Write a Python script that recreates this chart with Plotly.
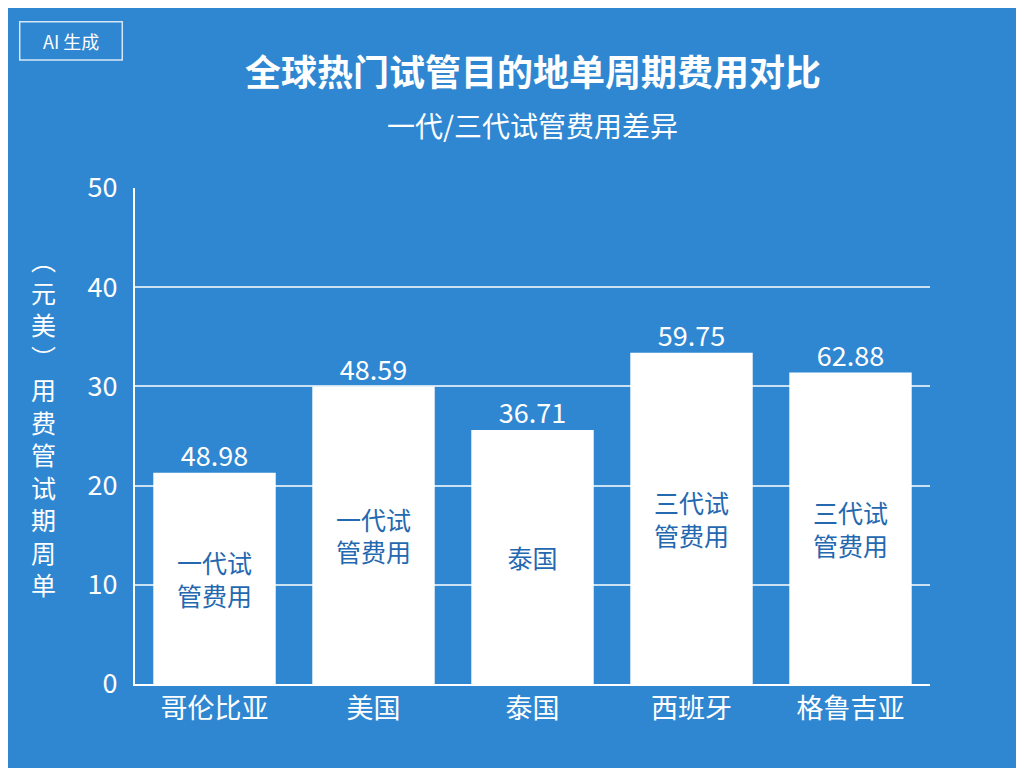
import plotly.graph_objects as go

# 数据
countries = ['哥伦比亚', '美国', '泰国', '西班牙', '格鲁吉亚']
heights = [21.3, 30.0, 25.6, 33.4, 31.4]
top_labels = ['48.98', '48.59', '36.71', '59.75', '62.88']
inner_labels = ['一代试<br>管费用', '一代试<br>管费用', '泰国', '三代试<br>管费用', '三代试<br>管费用']
y_ticks = [0, 10, 20, 30, 40, 50]

font = 'Noto Sans CJK SC'

fig = go.Figure()
fig.add_bar(x=countries, y=heights, marker_color='white', marker_line_width=0,
            text=inner_labels, textposition='inside', insidetextanchor='middle',
            textfont=dict(color='#2468b0', size=25, family=font), hoverinfo='skip')
fig.add_scatter(x=countries, y=heights, mode='text', text=top_labels,
                textposition='top center', textfont=dict(color='white', size=27, family=font),
                hoverinfo='skip')

fig.update_layout(
    width=1024, height=768,
    paper_bgcolor='#2f87d2', plot_bgcolor='#2f87d2',
    margin=dict(l=127, r=102, t=180, b=92),
    bargap=0.23, showlegend=False,
    font=dict(family=font, color='white'),
    uniformtext=dict(minsize=20, mode='show'),
)
fig.update_yaxes(range=[0, 50], tickvals=y_ticks, showgrid=True, gridcolor='rgba(255,255,255,0.75)',
                 gridwidth=1.5, zeroline=False, showline=True, linecolor='white', linewidth=2,
                 tickfont=dict(size=27, color='white'), ticks='', ticklabelstandoff=10)
fig.update_xaxes(showline=True, linecolor='white', linewidth=2, tickfont=dict(size=27, color='white'))

fig.add_annotation(text='<b>全球热门试管目的地单周期费用对比</b>', xref='paper', yref='paper',
                   x=0.5, y=1.238, xanchor='center', yanchor='middle', showarrow=False,
                   font=dict(size=36, color='white'))
fig.add_annotation(text='一代/三代试管费用差异', xref='paper', yref='paper',
                   x=0.5, y=1.127, xanchor='center', yanchor='middle', showarrow=False,
                   font=dict(size=28, color='white'))
fig.add_annotation(text='<br>'.join('︵元美︶用费管试期周单'), xref='paper', yref='paper',
                   x=-0.115, y=0.53, xanchor='center', yanchor='middle', showarrow=False,
                   font=dict(size=25, color='white'))
fig.add_shape(type='rect', xref='paper', yref='paper', x0=-0.145, x1=-0.016, y0=1.258, y1=1.335,
              line=dict(color='rgba(255,255,255,0.8)', width=1.5))
fig.add_annotation(text='AI 生成', xref='paper', yref='paper', x=-0.08, y=1.296,
                   xanchor='center', yanchor='middle', showarrow=False,
                   font=dict(size=18, color='white'))

fig.write_html('out.html')
